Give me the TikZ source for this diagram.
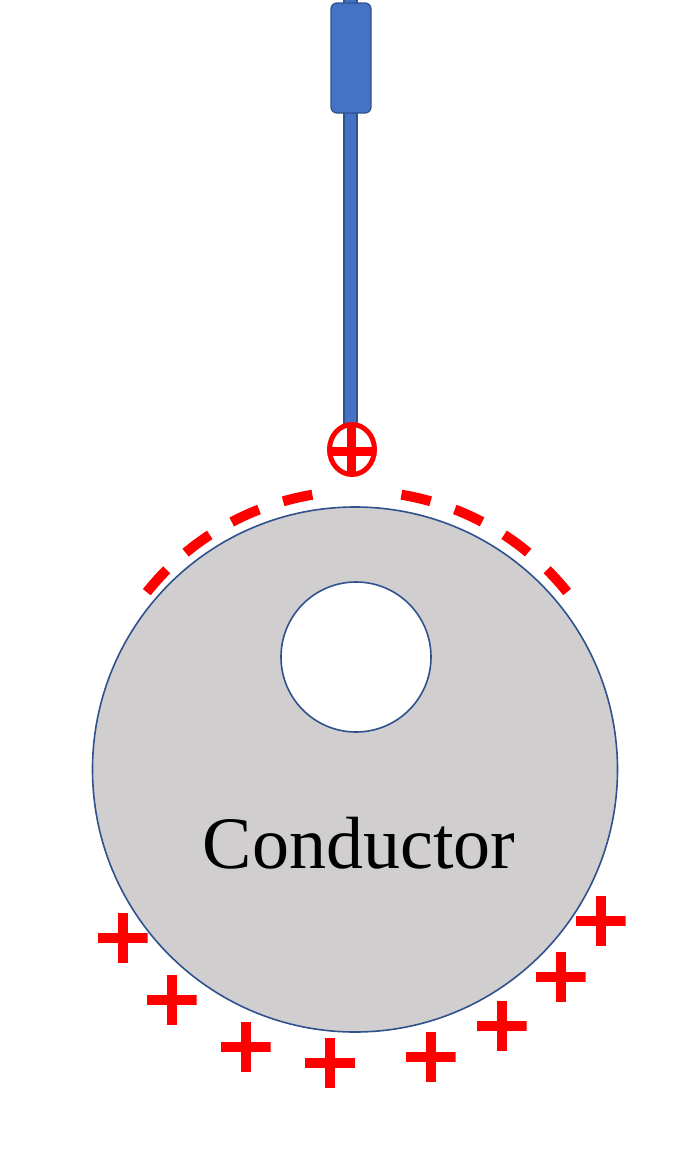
\documentclass[tikz,border=0pt]{standalone}
\usepackage{fontspec}
\setmainfont{Liberation Serif}
\usetikzlibrary{shapes.geometric}
\definecolor{rodblue}{HTML}{4472C4}
\definecolor{edgeblue}{HTML}{2F528F}
\definecolor{condgray}{HTML}{D0CECE}
\definecolor{chred}{HTML}{FF0000}
\tikzset{
  plussign/.style={minimum size=50pt, inner sep=0pt, path picture={
      \fill[chred] ([xshift=-25pt,yshift=-5pt]path picture bounding box.center) rectangle ([xshift=25pt,yshift=5pt]path picture bounding box.center);
      \fill[chred] ([xshift=-5pt,yshift=-25pt]path picture bounding box.center) rectangle ([xshift=5pt,yshift=25pt]path picture bounding box.center);}},
  negdash/.style={chred, line width=10pt, dash pattern=on 30pt off 25.5pt},
  bluepart/.style={fill=rodblue, draw=edgeblue, line width=1.3pt}
}
\begin{document}
\begin{tikzpicture}[x=1pt,y=-1pt]
\useasboundingbox (0,0) rectangle (689,1154);
% conductor
\node[circle, draw=edgeblue, fill=condgray, line width=1.6pt, minimum size=525pt, inner sep=0pt] (cond) at (355,769.5) {};
\node[circle, draw=edgeblue, fill=white, line width=1.6pt, minimum size=150pt, inner sep=0pt] (hole) at (356,657) {};
\node[font=\fontsize{74}{78}\selectfont, anchor=base, inner sep=0pt] (label) at (359,868) {Conductor};
% rod and handle
\node[bluepart, rectangle, minimum width=13pt, minimum height=432pt, inner sep=0pt, anchor=south] (rod) at (350.5,427) {};
\node[bluepart, rectangle, rounded corners=6pt, minimum width=40pt, minimum height=110pt, inner sep=0pt] (handle) at (351,58) {};
% charge at probe tip
\node[ellipse, draw=chred, line width=5pt, minimum width=45pt, minimum height=50pt, inner sep=0pt] (tip) at (352,449.5) {};
\fill[chred] (346.5,427) rectangle (355.5,474);
\fill[chred] (329,447) rectangle (375,456);
% induced negative charge
\coordinate (arcc) at (357,760);
\draw[negdash] ([shift={(-141.4:269)}]arcc) arc[start angle=-141.4, end angle=-99.4, radius=269];
\draw[negdash] ([shift={(-80.5:269)}]arcc) arc[start angle=-80.5, end angle=-38.5, radius=269];
% positive charges
\node[plussign] (p1) at (122.7,937.7) {};
\node[plussign] (p2) at (171.7,1000) {};
\node[plussign] (p3) at (245.7,1046.7) {};
\node[plussign] (p4) at (330,1062.7) {};
\node[plussign] (p5) at (430.7,1056.7) {};
\node[plussign] (p6) at (501.7,1025.7) {};
\node[plussign] (p7) at (560.7,976.7) {};
\node[plussign] (p8) at (600.7,920.7) {};
\end{tikzpicture}
\end{document}
